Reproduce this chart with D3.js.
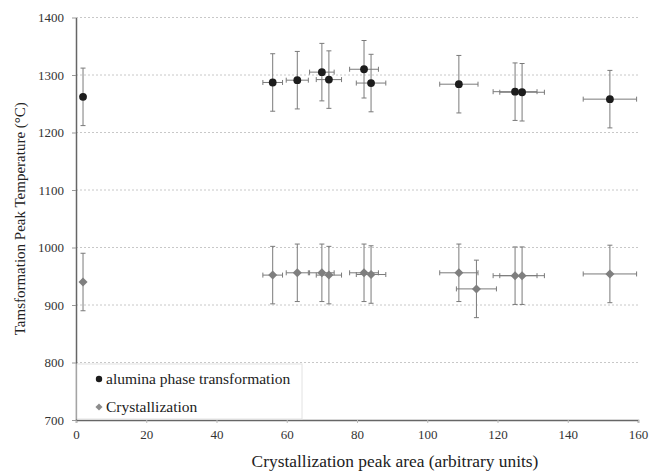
<!DOCTYPE html>
<html>
<head>
<meta charset="utf-8">
<script src="https://cdn.jsdelivr.net/npm/d3@7"></script>
<style>
  html, body { margin: 0; padding: 0; background: #fff; }
  svg { display: block; }
</style>
</head>
<body>
<svg id="chart" width="649" height="473"></svg>
<script>
// ===== Data =====
const peakArea      = [2, 56, 63, 70, 72, 82, 84, 109, 125, 127, 152];
const peakAreaErr   = [0.1, 2.8, 3.15, 3.5, 3.6, 4.1, 4.2, 5.45, 6.25, 6.35, 7.6];
const aluminaTemp   = [1262, 1287, 1291, 1305, 1292, 1310, 1286, 1284, 1271, 1270, 1258];
const aluminaErr    = [50, 50, 50, 50, 50, 50, 50, 50, 50, 50, 50];

const crystArea     = [2, 56, 63, 70, 72, 82, 84, 109, 114, 125, 127, 152];
const crystAreaErr  = [0.1, 2.8, 3.15, 3.5, 3.6, 4.1, 4.2, 5.45, 5.7, 6.25, 6.35, 7.6];
const crystTemp     = [940, 952, 956, 956, 952, 956, 953, 956, 928, 951, 951, 954];
const crystErr      = [50, 50, 50, 50, 50, 50, 50, 50, 50, 50, 50, 50];

const xTicks = [0, 20, 40, 60, 80, 100, 120, 140, 160];
const yTicks = [700, 800, 900, 1000, 1100, 1200, 1300, 1400];

const seriesNames = ['alumina phase transformation', 'Crystallization'];

// ===== Layout =====
const margin = { top: 17.5, right: 11, bottom: 53, left: 76 };
const width  = 649 - margin.left - margin.right;
const height = 473 - margin.top - margin.bottom;
const font   = "'Liberation Serif'";

const svg = d3.select('#chart');
const g   = svg.append('g').attr('transform', `translate(${margin.left},${margin.top})`);

const x = d3.scaleLinear().domain([0, 160]).range([0, width]);
const y = d3.scaleLinear().domain([700, 1400]).range([height, 0]);

// --- Gridlines (dotted, horizontal only) ---
g.append('g')
    .selectAll('line')
    .data(yTicks.filter(t => t > 700))
    .join('line')
    .attr('x1', 0).attr('x2', width)
    .attr('y1', d => y(d)).attr('y2', d => y(d))
    .attr('stroke', '#c8c8c8')
    .attr('stroke-width', 1)
    .attr('stroke-dasharray', '2,2');

// --- Series build ---
const alumina = peakArea.map((v, i) => ({ x: v, xe: peakAreaErr[i], y: aluminaTemp[i], ye: aluminaErr[i] }));
const cryst   = crystArea.map((v, i) => ({ x: v, xe: crystAreaErr[i], y: crystTemp[i], ye: crystErr[i] }));

function drawErrors(data) {
    const eg = g.append('g')
        .attr('stroke', '#7a7a7a')
        .attr('stroke-width', 1)
        .attr('fill', 'none');
    const cap = 2.5;

    data.forEach(d => {
        const cx = x(d.x), cy = y(d.y);
        // vertical error
        eg.append('line').attr('x1', cx).attr('x2', cx).attr('y1', y(d.y + d.ye)).attr('y2', y(d.y - d.ye));
        eg.append('line').attr('x1', cx - cap).attr('x2', cx + cap).attr('y1', y(d.y + d.ye)).attr('y2', y(d.y + d.ye));
        eg.append('line').attr('x1', cx - cap).attr('x2', cx + cap).attr('y1', y(d.y - d.ye)).attr('y2', y(d.y - d.ye));
        // horizontal error
        if (x(d.x + d.xe) - cx > 1) {
            eg.append('line').attr('x1', x(d.x - d.xe)).attr('x2', x(d.x + d.xe)).attr('y1', cy).attr('y2', cy);
            eg.append('line').attr('x1', x(d.x - d.xe)).attr('x2', x(d.x - d.xe)).attr('y1', cy - cap).attr('y2', cy + cap);
            eg.append('line').attr('x1', x(d.x + d.xe)).attr('x2', x(d.x + d.xe)).attr('y1', cy - cap).attr('y2', cy + cap);
        }
    });
}

drawErrors(alumina);
drawErrors(cryst);

// --- Markers ---
g.append('g')
    .selectAll('circle')
    .data(alumina)
    .join('circle')
    .attr('cx', d => x(d.x))
    .attr('cy', d => y(d.y))
    .attr('r', 3.9)
    .attr('fill', '#1c1c1c');

const diamond = d3.symbol().type(d3.symbolDiamond2).size(52);
g.append('g')
    .selectAll('path')
    .data(cryst)
    .join('path')
    .attr('transform', d => `translate(${x(d.x)},${y(d.y)})`)
    .attr('d', diamond)
    .attr('fill', '#7f7f7f');

// --- Axes ---
const xAxis = g.append('g')
    .attr('transform', `translate(0,${height})`)
    .call(d3.axisBottom(x).tickValues(xTicks).tickFormat(d3.format('d')).tickSize(3).tickPadding(7));
xAxis.select('.domain').attr('stroke', '#666').attr('stroke-width', 1.5);
xAxis.selectAll('.tick line').attr('stroke', '#bbb');
xAxis.selectAll('text')
    .style('font-family', font).style('font-size', '13px').attr('fill', '#333');

const yAxis = g.append('g')
    .call(d3.axisLeft(y).tickValues(yTicks).tickFormat(d3.format('d')).tickSize(4).tickPadding(8).tickSizeOuter(0));
yAxis.select('.domain').attr('stroke', '#666').attr('stroke-width', 1.5);
yAxis.selectAll('.tick line').attr('stroke', '#999');
yAxis.selectAll('text')
    .style('font-family', font).style('font-size', '13px').attr('fill', '#333');

// --- Axis titles ---
svg.append('text')
    .attr('x', 395)
    .attr('y', 467)
    .attr('text-anchor', 'middle')
    .style('font-family', font).style('font-size', '17.4px').attr('fill', '#222')
    .text('Crystallization peak area (arbitrary units)');

svg.append('text')
    .attr('transform', `translate(25,${margin.top + height / 2}) rotate(-90)`)
    .attr('text-anchor', 'middle')
    .style('font-family', font).style('font-size', '15px').attr('fill', '#222')
    .text('Tamsformation Peak Temperature (°C)');

// --- Legend ---
const legend = g.append('g').attr('transform', `translate(1,${y(800) + 1.5})`);
legend.append('rect')
    .attr('width', 225).attr('height', height - y(800) - 2.5)
    .attr('fill', '#fff')
    .attr('stroke', '#e2e2e2');

legend.append('circle').attr('cx', 22).attr('cy', 15).attr('r', 3.2).attr('fill', '#1c1c1c');
legend.append('path')
    .attr('transform', 'translate(22,43)')
    .attr('d', d3.symbol().type(d3.symbolDiamond2).size(32))
    .attr('fill', '#8c8c8c');

legend.selectAll('text.leg')
    .data(seriesNames)
    .join('text')
    .attr('class', 'leg')
    .attr('x', 29)
    .attr('y', (d, i) => 20 + i * 28)
    .style('font-family', font).style('font-size', '15.5px').attr('fill', '#222')
    .text(d => d);
</script>
</body>
</html>
